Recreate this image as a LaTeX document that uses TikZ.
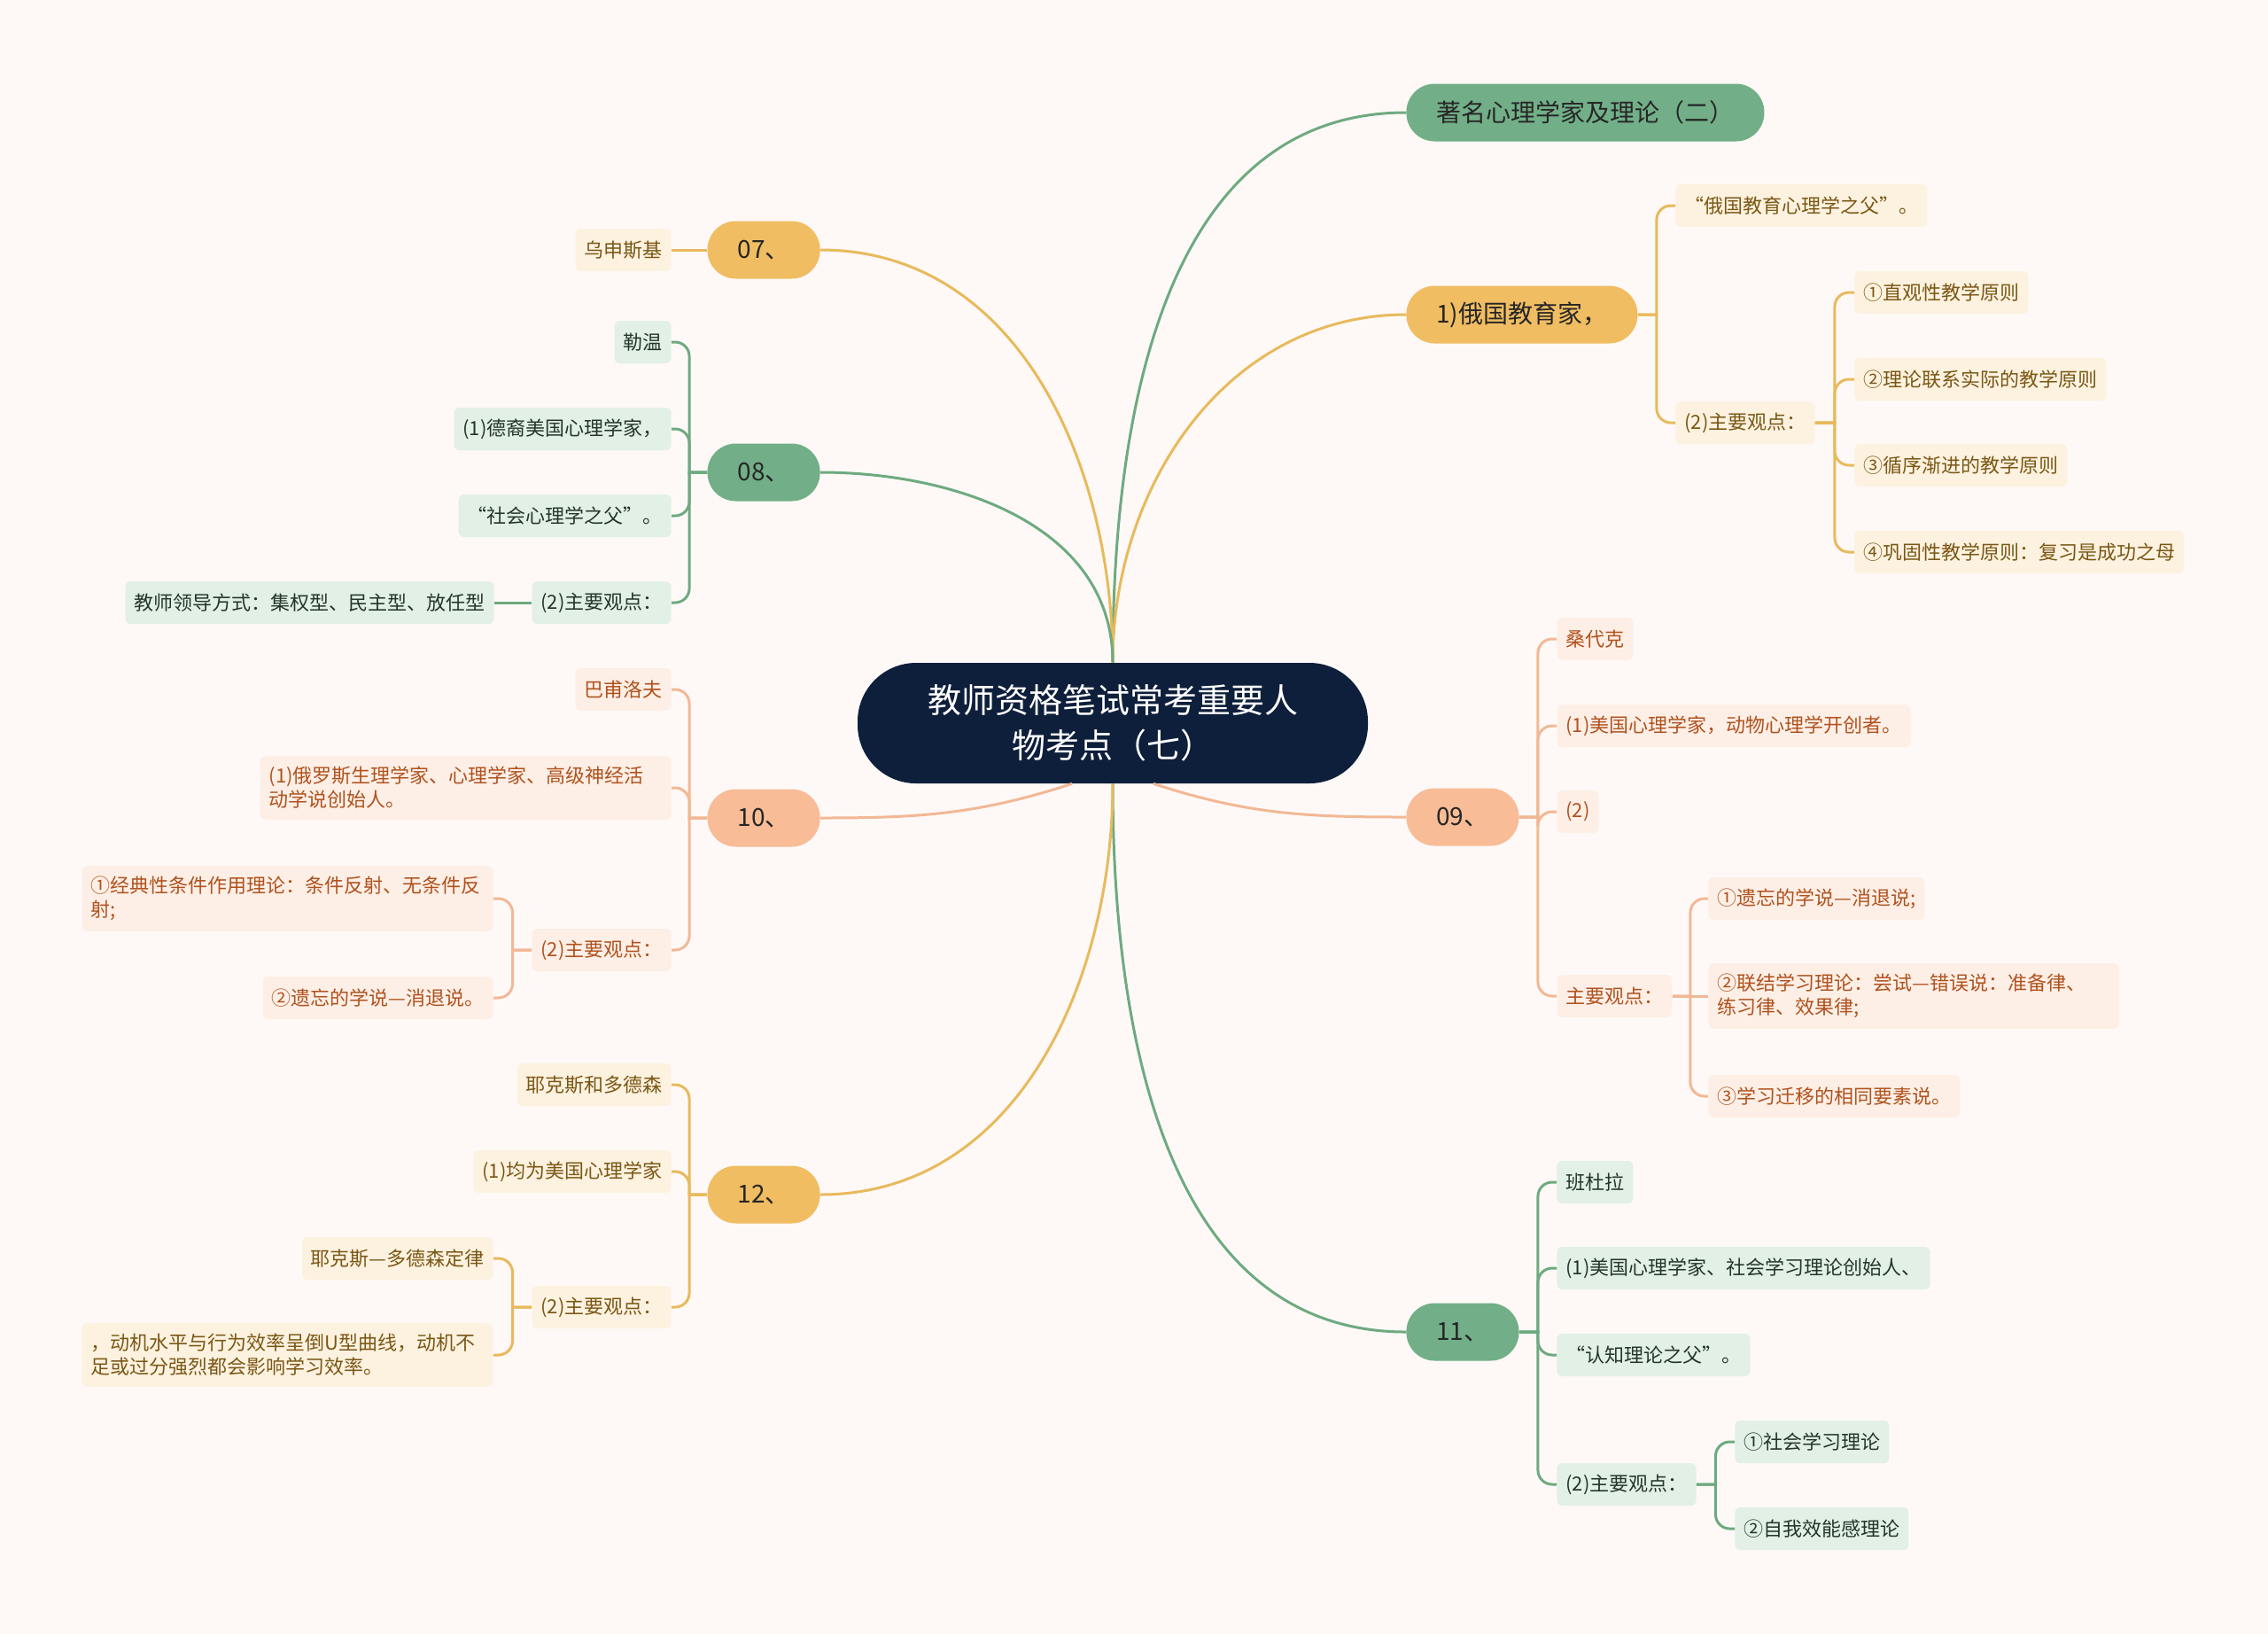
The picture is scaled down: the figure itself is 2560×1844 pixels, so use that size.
\documentclass[tikz,border=0pt]{standalone}
\usepackage{fontspec}
\setmainfont{Noto Sans CJK SC}
\usetikzlibrary{calc}
\definecolor{paper}{HTML}{FEF9F7}
\definecolor{navy}{HTML}{0E1F3B}
\definecolor{gtopic}{HTML}{72AF88}
\definecolor{gleaf}{HTML}{E2F0E6}
\definecolor{gtext}{HTML}{26352A}
\definecolor{gline}{HTML}{6EAA80}
\definecolor{ytopic}{HTML}{F0BD62}
\definecolor{yleaf}{HTML}{FDF2DF}
\definecolor{ytext}{HTML}{7A5716}
\definecolor{yline}{HTML}{E8BA5C}
\definecolor{ptopic}{HTML}{F8BC97}
\definecolor{pleaf}{HTML}{FDEFE6}
\definecolor{ptext}{HTML}{B0521E}
\definecolor{pline}{HTML}{F2B895}

\begin{document}
\begin{tikzpicture}[x=0.5pt, y=-0.5pt,
        root/.style={fill=navy, text=white, rounded corners=33pt, minimum width=288pt,
            minimum height=68pt, text width=214pt, align=center,
            font=\fontsize{19}{25.5}\selectfont},
        topic/.style={rounded corners=16pt, minimum height=32.5pt, inner xsep=17pt,
            text=black!85, font=\fontsize{14}{17}\selectfont},
        leaf/.style={rounded corners=3pt, minimum height=24pt, inner xsep=5pt,
            inner ysep=6pt, font=\fontsize{11}{13.5}\selectfont},
        wide/.style={text width=222pt, align=left},
        gtopicbox/.style={topic, fill=gtopic},
        ytopicbox/.style={topic, fill=ytopic},
        ptopicbox/.style={topic, fill=ptopic},
        gleafbox/.style={leaf, fill=gleaf, text=gtext},
        yleafbox/.style={leaf, fill=yleaf, text=ytext},
        pleafbox/.style={leaf, fill=pleaf, text=ptext},
        gwire/.style={draw=gline, line width=1.5pt},
        ywire/.style={draw=yline, line width=1.5pt},
        pwire/.style={draw=pline, line width=1.5pt},
        fork/.style={to path={-| ($(\tikztostart)!0.5!(\tikztotarget)$)
            [rounded corners=8pt] |- (\tikztotarget)}}
    ]
    \fill[paper] (0,0) rectangle (2560,1844);

    % centre
    \node[root] (root) at (1256,816) {教师资格笔试常考重要人\\物考点（七）};

    % right side
    \node[gtopicbox, anchor=west] (famous) at (1587,127) {著名心理学家及理论（二）};

    \node[ytopicbox, anchor=west] (russian) at (1587,355) {1)俄国教育家，};
    \node[yleafbox, anchor=west] (rfather) at (1891,232) {“俄国教育心理学之父”。};
    \node[yleafbox, anchor=west] (rview) at (1891,477) {(2)主要观点：};
    \node[yleafbox, anchor=west] (rview1) at (2093,330) {①直观性教学原则};
    \node[yleafbox, anchor=west] (rview2) at (2093,428) {②理论联系实际的教学原则};
    \node[yleafbox, anchor=west] (rview3) at (2093,525) {③循序渐进的教学原则};
    \node[yleafbox, anchor=west] (rview4) at (2093,623) {④巩固性教学原则：复习是成功之母};

    \node[ptopicbox, anchor=west] (n09) at (1587,922) {09、};
    \node[pleafbox, anchor=west] (thorn) at (1757,721) {桑代克};
    \node[pleafbox, anchor=west] (thorn1) at (1757,819) {(1)美国心理学家，动物心理学开创者。};
    \node[pleafbox, anchor=west] (thorn2) at (1757,916) {(2)};
    \node[pleafbox, anchor=west] (tview) at (1757,1124) {主要观点：};
    \node[pleafbox, anchor=west] (tview1) at (1928,1014) {①遗忘的学说—消退说;};
    \node[pleafbox, wide, anchor=west] (tview2) at (1928,1124)
        {②联结学习理论：尝试—错误说：准备律、\\练习律、效果律;};
    \node[pleafbox, anchor=west] (tview3) at (1928,1237) {③学习迁移的相同要素说。};

    \node[gtopicbox, anchor=west] (n11) at (1587,1503) {11、};
    \node[gleafbox, anchor=west] (bandura) at (1757,1334) {班杜拉};
    \node[gleafbox, anchor=west] (band1) at (1757,1431) {(1)美国心理学家、社会学习理论创始人、};
    \node[gleafbox, anchor=west] (band2) at (1757,1529) {“认知理论之父”。};
    \node[gleafbox, anchor=west] (bview) at (1757,1675) {(2)主要观点：};
    \node[gleafbox, anchor=west] (bview1) at (1958,1627) {①社会学习理论};
    \node[gleafbox, anchor=west] (bview2) at (1958,1725) {②自我效能感理论};

    % left side
    \node[ytopicbox, anchor=east] (n07) at (926,282) {07、};
    \node[yleafbox, anchor=east] (ushin) at (758,282) {乌申斯基};

    \node[gtopicbox, anchor=east] (n08) at (926,533) {08、};
    \node[gleafbox, anchor=east] (lewin) at (758,386) {勒温};
    \node[gleafbox, anchor=east] (lewin1) at (758,484) {(1)德裔美国心理学家，};
    \node[gleafbox, anchor=east] (lewin2) at (758,582) {“社会心理学之父”。};
    \node[gleafbox, anchor=east] (lview) at (758,680) {(2)主要观点：};
    \node[gleafbox, anchor=east] (lview1) at (558,680) {教师领导方式：集权型、民主型、放任型};

    \node[ptopicbox, anchor=east] (n10) at (926,923) {10、};
    \node[pleafbox, anchor=east] (pavlov) at (758,778) {巴甫洛夫};
    \node[pleafbox, wide, anchor=east] (pavlov1) at (758,889)
        {(1)俄罗斯生理学家、心理学家、高级神经活\\动学说创始人。};
    \node[pleafbox, anchor=east] (pview) at (758,1072) {(2)主要观点：};
    \node[pleafbox, wide, anchor=east] (pview1) at (557,1014)
        {①经典性条件作用理论：条件反射、无条件反\\射;};
    \node[pleafbox, anchor=east] (pview2) at (557,1126) {②遗忘的学说—消退说。};

    \node[ytopicbox, anchor=east] (n12) at (926,1348) {12、};
    \node[yleafbox, anchor=east] (yerkes) at (758,1224) {耶克斯和多德森};
    \node[yleafbox, anchor=east] (yerkes1) at (758,1322) {(1)均为美国心理学家};
    \node[yleafbox, anchor=east] (yview) at (758,1475) {(2)主要观点：};
    \node[yleafbox, anchor=east] (yview1) at (557,1420) {耶克斯—多德森定律};
    \node[yleafbox, wide, anchor=east] (yview2) at (557,1529)
        {，动机水平与行为效率呈倒U型曲线，动机不\\足或过分强烈都会影响学习效率。};

    % main branches
    \draw[gwire] (root.north) to[out=90, in=180] (famous.west);
    \draw[ywire] (root.north) to[out=90, in=180] (russian.west);
    \draw[pwire] ($(root.south)+(46,0)$) to[out=-18, in=180] (n09.west);
    \draw[gwire] (root.south) to[out=-90, in=180] (n11.west);
    \draw[ywire] (root.north) to[out=90, in=0] (n07.east);
    \draw[gwire] (root.north) to[out=90, in=0] (n08.east);
    \draw[pwire] ($(root.south)+(-46,0)$) to[out=198, in=0] (n10.east);
    \draw[ywire] (root.south) to[out=-90, in=0] (n12.east);

    % sub branches
    \draw[ywire, fork] (russian.east) to (rfather.west);
    \draw[ywire, fork] (russian.east) to (rview.west);
    \draw[ywire, fork] (rview.east) to (rview1.west);
    \draw[ywire, fork] (rview.east) to (rview2.west);
    \draw[ywire, fork] (rview.east) to (rview3.west);
    \draw[ywire, fork] (rview.east) to (rview4.west);

    \draw[pwire, fork] (n09.east) to (thorn.west);
    \draw[pwire, fork] (n09.east) to (thorn1.west);
    \draw[pwire, fork] (n09.east) to (thorn2.west);
    \draw[pwire, fork] (n09.east) to (tview.west);
    \draw[pwire, fork] (tview.east) to (tview1.west);
    \draw[pwire] (tview.east) -- (tview2.west);
    \draw[pwire, fork] (tview.east) to (tview3.west);

    \draw[gwire, fork] (n11.east) to (bandura.west);
    \draw[gwire, fork] (n11.east) to (band1.west);
    \draw[gwire, fork] (n11.east) to (band2.west);
    \draw[gwire, fork] (n11.east) to (bview.west);
    \draw[gwire, fork] (bview.east) to (bview1.west);
    \draw[gwire, fork] (bview.east) to (bview2.west);

    \draw[ywire] (n07.west) -- (ushin.east);

    \draw[gwire, fork] (n08.west) to (lewin.east);
    \draw[gwire, fork] (n08.west) to (lewin1.east);
    \draw[gwire, fork] (n08.west) to (lewin2.east);
    \draw[gwire, fork] (n08.west) to (lview.east);
    \draw[gwire] (lview.west) -- (lview1.east);

    \draw[pwire, fork] (n10.west) to (pavlov.east);
    \draw[pwire, fork] (n10.west) to (pavlov1.east);
    \draw[pwire, fork] (n10.west) to (pview.east);
    \draw[pwire, fork] (pview.west) to (pview1.east);
    \draw[pwire, fork] (pview.west) to (pview2.east);

    \draw[ywire, fork] (n12.west) to (yerkes.east);
    \draw[ywire, fork] (n12.west) to (yerkes1.east);
    \draw[ywire, fork] (n12.west) to (yview.east);
    \draw[ywire, fork] (yview.west) to (yview1.east);
    \draw[ywire, fork] (yview.west) to (yview2.east);
\end{tikzpicture}
\end{document}
